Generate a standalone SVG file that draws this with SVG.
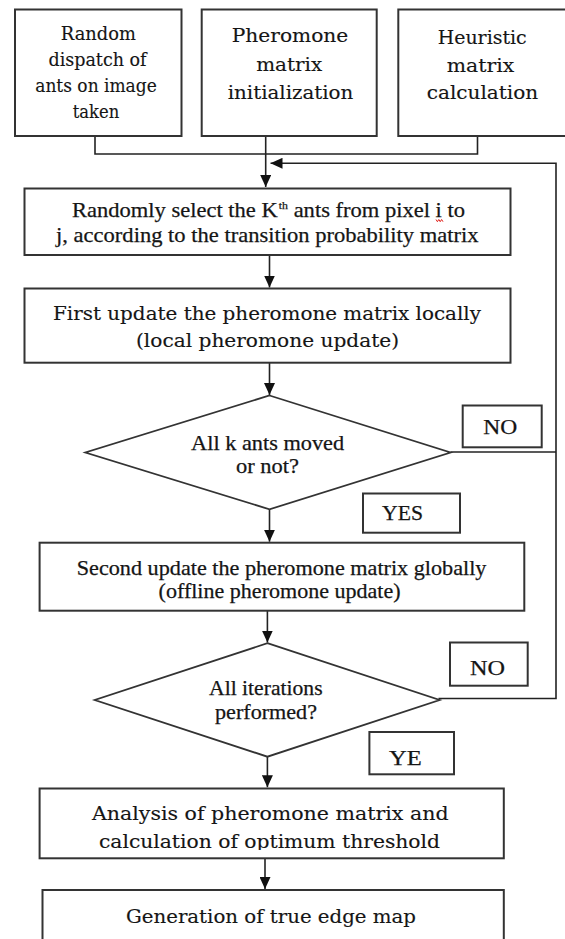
<svg xmlns="http://www.w3.org/2000/svg" width="565" height="939" viewBox="0 0 565 939">
  <style>
    .box { fill: #ffffff; stroke: #333333; stroke-width: 2; }
    .dia { fill: #ffffff; stroke: #333333; stroke-width: 1.8; stroke-linejoin: miter; }
    .lbl { fill: #ffffff; stroke: #333333; stroke-width: 2; }
    .wire { fill: none; stroke: #222222; stroke-width: 1.6; }
    text { font-family: "Liberation Serif", "Times New Roman", serif; font-size: 21px; fill: #151515; stroke: #151515; stroke-width: 0.25; }
    text.cam { font-family: "DejaVu Serif", "Liberation Serif", serif; font-size: 18.5px; stroke-width: 0.15; }
    .c { text-anchor: middle; }
    .s { text-anchor: start; }
  </style>
  <defs>
    <marker id="arrow" markerUnits="userSpaceOnUse" viewBox="0 0 12 11" markerWidth="12" markerHeight="11" refX="12" refY="5.5" orient="auto">
      <path d="M0,0 L12,5.5 L0,11 z" fill="#111111"/>
    </marker>
    <clipPath id="clipAnalysis">
      <rect x="40" y="789" width="463" height="61"/>
    </clipPath>
  </defs>

  <rect width="565" height="939" fill="#ffffff"/>

  <!-- connectors -->
  <g id="connectors">
    <path class="wire" d="M95,136 V154 H477.5 V136"/>
    <path class="wire" d="M265.7,136 V187" marker-end="url(#arrow)"/>
    <path class="wire" d="M438.5,698.5 H556 V163.3 H270.5" marker-end="url(#arrow)"/>
    <path class="wire" d="M450.5,452 H556"/>
    <path class="wire" d="M269.5,255 V287.5" marker-end="url(#arrow)"/>
    <path class="wire" d="M269.5,362.7 V395" marker-end="url(#arrow)"/>
    <path class="wire" d="M269.5,509.3 V541.7" marker-end="url(#arrow)"/>
    <path class="wire" d="M267.4,610.7 V642.5" marker-end="url(#arrow)"/>
    <path class="wire" d="M267.4,756.7 V787.3" marker-end="url(#arrow)"/>
    <path class="wire" d="M265,858.3 V889" marker-end="url(#arrow)"/>
  </g>

  <!-- inputs -->
  <g id="dispatch">
    <rect class="box" x="15" y="9.5" width="166.5" height="126.5"/>
    <text class="c cam" x="98.3" y="40" textLength="75" lengthAdjust="spacingAndGlyphs">Random</text>
    <text class="c cam" x="97.5" y="66" textLength="98" lengthAdjust="spacingAndGlyphs">dispatch of</text>
    <text class="c cam" x="96" y="92" textLength="121.5" lengthAdjust="spacingAndGlyphs">ants on image</text>
    <text class="c cam" x="96" y="118.3" textLength="46.5" lengthAdjust="spacingAndGlyphs">taken</text>
  </g>

  <g id="pheromone-init">
    <rect class="box" x="201.7" y="9.5" width="175" height="126.5"/>
    <text class="c cam" x="290" y="42" textLength="116.5" lengthAdjust="spacingAndGlyphs">Pheromone</text>
    <text class="c cam" x="289.2" y="70.5" textLength="66" lengthAdjust="spacingAndGlyphs">matrix</text>
    <text class="c cam" x="290.5" y="98.5" textLength="125.5" lengthAdjust="spacingAndGlyphs">initialization</text>
  </g>

  <g id="heuristic">
    <rect class="box" x="398.3" y="9.5" width="170" height="126.5"/>
    <text class="c cam" x="482.2" y="43.5" textLength="89" lengthAdjust="spacingAndGlyphs">Heuristic</text>
    <text class="c cam" x="480.5" y="71.7" textLength="67.5" lengthAdjust="spacingAndGlyphs">matrix</text>
    <text class="c cam" x="482.5" y="99" textLength="111.5" lengthAdjust="spacingAndGlyphs">calculation</text>
  </g>

  <!-- ant movement -->
  <g id="select-ants">
    <rect class="box" x="24.5" y="188.5" width="486" height="66.5"/>
    <text class="s" x="72" y="216.7" textLength="393" lengthAdjust="spacingAndGlyphs">Randomly select the K<tspan font-size="11" dx="1" dy="-8">th</tspan><tspan dy="8"> ants from pixel i to</tspan></text>
    <path d="M436,219.5 l1.4,2.2 l1.4,-2.2 l1.4,2.2 l1.4,-2.2 l1.4,2.2" fill="none" stroke="#e0201a" stroke-width="1"/>
    <text class="c" x="267.3" y="241.7" textLength="422.5" lengthAdjust="spacingAndGlyphs">j, according to the transition probability matrix</text>
  </g>

  <g id="local-update">
    <rect class="box" x="24.5" y="288.5" width="486" height="74.2"/>
    <text class="c cam" x="267" y="320" textLength="428" lengthAdjust="spacingAndGlyphs">First update the pheromone matrix locally</text>
    <text class="c cam" x="267.5" y="346.7" textLength="263" lengthAdjust="spacingAndGlyphs">(local pheromone update)</text>
  </g>

  <g id="all-ants-moved">
    <polygon class="dia" points="269.5,395.5 450.5,452.5 269.5,509.3 85.4,452.5"/>
    <text class="c" x="267.6" y="450" textLength="153" lengthAdjust="spacingAndGlyphs">All k ants moved</text>
    <text class="c" x="267.5" y="473.3" textLength="63" lengthAdjust="spacingAndGlyphs">or not?</text>
  </g>

  <g id="no-ants">
    <rect class="lbl" x="462.7" y="405.5" width="79" height="41.8"/>
    <text class="s" x="483.3" y="434" font-size="22" textLength="34" lengthAdjust="spacingAndGlyphs">NO</text>
  </g>

  <g id="yes-ants">
    <rect class="lbl" x="363" y="493.5" width="97" height="39.2"/>
    <text class="s" x="382" y="520" font-size="22" textLength="41" lengthAdjust="spacingAndGlyphs">YES</text>
  </g>

  <g id="global-update">
    <rect class="box" x="39.6" y="542.7" width="484.7" height="68"/>
    <text class="c" x="281.6" y="575" textLength="409.7" lengthAdjust="spacingAndGlyphs">Second update the pheromone matrix globally</text>
    <text class="c" x="279.6" y="598.3" textLength="242" lengthAdjust="spacingAndGlyphs">(offline pheromone update)</text>
  </g>

  <g id="all-iterations">
    <polygon class="dia" points="267.4,643.2 439.6,700 267.4,756.7 94.8,700"/>
    <text class="c" x="265.8" y="695" textLength="113.5" lengthAdjust="spacingAndGlyphs">All iterations</text>
    <text class="c" x="266" y="719.3" textLength="102" lengthAdjust="spacingAndGlyphs">performed?</text>
  </g>

  <g id="no-iterations">
    <rect class="lbl" x="450" y="642.5" width="77.7" height="43.2"/>
    <text class="s" x="470" y="675" font-size="22" textLength="35" lengthAdjust="spacingAndGlyphs">NO</text>
  </g>

  <g id="yes-iterations">
    <rect class="lbl" x="369.4" y="732" width="84.6" height="42.3"/>
    <text class="s" x="389" y="765" font-size="22" textLength="32.7" lengthAdjust="spacingAndGlyphs">YE</text>
  </g>

  <!-- result -->
  <g id="threshold">
    <rect class="box" x="39.6" y="788.5" width="464.2" height="69.8"/>
    <text class="c cam" x="270.3" y="820" textLength="356.6" lengthAdjust="spacingAndGlyphs">Analysis of pheromone matrix and</text>
    <text class="c cam" x="269.5" y="847.5" textLength="341" lengthAdjust="spacingAndGlyphs" clip-path="url(#clipAnalysis)">calculation of optimum threshold</text>
  </g>

  <g id="edge-map">
    <rect class="box" x="42.5" y="890" width="461.3" height="60"/>
    <text class="c cam" x="271" y="923.3" textLength="290" lengthAdjust="spacingAndGlyphs">Generation of true edge map</text>
  </g>
</svg>
